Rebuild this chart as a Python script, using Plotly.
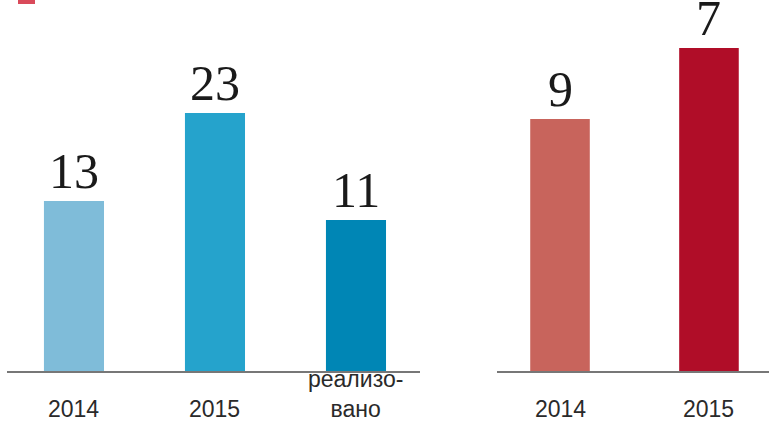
import plotly.graph_objects as go

# Left panel
left_cats = ["2014", "2015", "реализо-<br>вано"]
left_labels = ["13", "23", "11"]
left_heights = [170, 258, 151]   # bar heights as drawn (estimated)
left_colors = ["#7fbcd9", "#25a3cc", "#0086b5"]

# Right panel
right_cats = ["2014", "2015"]
right_labels = ["9", "7"]
right_heights = [252, 323]
right_colors = ["#c8645c", "#b00d28"]

W, H = 769, 427
plot_h = 371

fig = go.Figure()
fig.add_trace(go.Bar(x=left_cats, y=left_heights, marker=dict(color=left_colors, line_width=0),
                     width=0.426, xaxis="x", yaxis="y", hoverinfo="skip"))
fig.add_trace(go.Bar(x=right_cats, y=right_heights, marker=dict(color=right_colors, line_width=0),
                     width=0.40, xaxis="x2", yaxis="y2", hoverinfo="skip"))

num_font = dict(family="Liberation Serif, DejaVu Serif, serif", size=50, color="#1a1a1a")
cat_font = dict(family="Liberation Sans Narrow, Liberation Sans, sans-serif", size=23, color="#2a2a2a")

ann = []
for xa, ya, cats, labs, hts in [("x", "y", left_cats, left_labels, left_heights),
                                ("x2", "y2", right_cats, right_labels, right_heights)]:
    for i, (c, l, h) in enumerate(zip(cats, labs, hts)):
        ann.append(dict(x=i, y=h, xref=xa, yref=ya, text=l, showarrow=False,
                        yanchor="bottom", yshift=0, font=num_font))
        ann.append(dict(x=i, y=0, xref=xa, yref=ya, text=c, showarrow=False,
                        yanchor="bottom", yshift=-53, font=cat_font))

axis_common = dict(type="category", showgrid=False, zeroline=False, showticklabels=False,
                   showline=True, linecolor="#777777", linewidth=1.5, ticks="", fixedrange=True)

fig.update_layout(
    width=W, height=H,
    margin=dict(l=0, r=0, t=0, b=H - plot_h),
    paper_bgcolor="white", plot_bgcolor="white",
    showlegend=False,
    xaxis=dict(domain=[7 / W, 420 / W], range=[-0.475, 2.454], **axis_common),
    xaxis2=dict(domain=[497 / W, 1.0], range=[-0.423, 1.403], anchor="y2", **axis_common),
    yaxis=dict(range=[0, plot_h], visible=False, fixedrange=True),
    yaxis2=dict(range=[0, plot_h], visible=False, fixedrange=True, anchor="x2"),
    annotations=ann,
    shapes=[dict(type="rect", xref="paper", yref="paper", x0=18 / W, x1=35 / W,
                 y0=(plot_h - 4) / plot_h, y1=1.02, fillcolor="#d94a5a", line_width=0)],
)

fig.write_html("out.html", config={"displayModeBar": False},
               post_script="document.body.style.margin='0';")
